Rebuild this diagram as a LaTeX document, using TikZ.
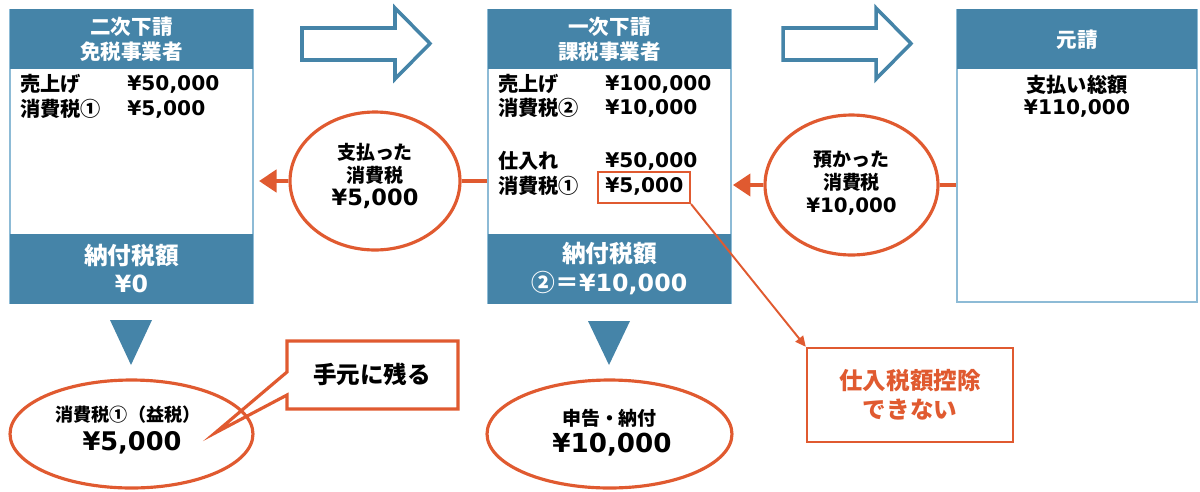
\documentclass[tikz,border=0pt]{standalone}
\usepackage{fontspec}
\setmainfont{DejaVu Sans}
\newfontfamily\jp{Noto Sans CJK JP}
\newfontfamily\lat{DejaVu Sans}
\usetikzlibrary{shapes.geometric,arrows.meta}
\definecolor{hblue}{HTML}{4584A8}
\definecolor{bline}{HTML}{8DBBD6}
\definecolor{ared}{HTML}{E05A30}
\newcommand\fs[2]{\fontsize{#1}{#2}\selectfont}
\begin{document}
\begin{tikzpicture}[x=0.02cm,y=-0.02cm,
  panel/.style={draw=bline, line width=1.2pt, fill=white, inner sep=0pt},
  hdr/.style={fill=hblue, text=white, inner sep=0pt, align=center},
  hdrfont/.style={font=\jp\bfseries\fs{11.7pt}{14.2pt}},
  ftrfont/.style={font=\jp\bfseries\fs{13.5pt}{16.2pt}},
  body/.style={inner sep=0pt, anchor=west, font=\bfseries\fs{11.5pt}{14pt}},
  ctext/.style={inner sep=0pt, align=center},
  oval/.style={ellipse, draw=ared, line width=1.8pt, inner sep=0pt},
  conn/.style={draw=ared, line width=2.6pt},
  connarr/.style={conn, -{Triangle[length=10pt,width=12.5pt]}},
  thinarr/.style={draw=ared, line width=1.1pt, -{Triangle[length=6pt,width=5.5pt]}},
  blockarr/.style={draw=hblue, line width=2pt, fill=white, line join=miter},
  redbox/.style={draw=ared, line width=1.4pt, fill=white, inner sep=0pt}
]
\useasboundingbox (0,0) rectangle (1200,491);

% ---------- block arrows ----------
\draw[blockarr] (302,28) -- (395,28) -- (395,8) -- (430,43.5) -- (395,79) -- (395,60) -- (302,60) -- cycle;
\draw[blockarr] (783,28) -- (876,28) -- (876,8) -- (911,43.5) -- (876,79) -- (876,60) -- (783,60) -- cycle;

% ---------- box 1 ----------
\node[panel, minimum width=4.86cm, minimum height=5.86cm] (b1) at (131.5,156.5) {};
\node[hdr, hdrfont, anchor=north, minimum width=4.86cm, minimum height=1.2cm] (b1h) at (b1.north) {二次下請\\免税事業者};
\node[hdr, ftrfont, anchor=south, minimum width=4.86cm, minimum height=1.4cm] (b1f) at (b1.south) {納付税額\\{\lat ¥0}};
\node[body] (b1l1) at (20,84) {\jp 売上げ};
\node[body] (b1v1) at (127,84) {¥50,000};
\node[body] (b1l2) at (20,109) {\jp 消費税①};
\node[body] (b1v2) at (127,109) {¥5,000};

% ---------- box 2 ----------
\node[panel, minimum width=4.86cm, minimum height=5.86cm] (b2) at (609.5,156.5) {};
\node[hdr, hdrfont, anchor=north, minimum width=4.86cm, minimum height=1.2cm] (b2h) at (b2.north) {一次下請\\課税事業者};
\node[hdr, ftrfont, anchor=south, minimum width=4.86cm, minimum height=1.4cm] (b2f) at (b2.south) {納付税額\\②＝{\lat ¥10,000}};
\node[body] (b2l1) at (498,84) {\jp 売上げ};
\node[body] (b2v1) at (605,84) {¥100,000};
\node[body] (b2l2) at (498,108) {\jp 消費税②};
\node[body] (b2v2) at (605,108) {¥10,000};
\node[body] (b2l3) at (498,161) {\jp 仕入れ};
\node[body] (b2v3) at (605,161) {¥50,000};
\node[body] (b2l4) at (498,186) {\jp 消費税①};
\node[body] (b2v4) at (605,186) {¥5,000};
\node[draw=ared, line width=1.2pt, inner sep=0pt, minimum width=1.84cm, minimum height=0.62cm] (r5) at (644,187.5) {};

% ---------- box 3 ----------
\node[panel, minimum width=4.8cm, minimum height=5.84cm] (b3) at (1077,156) {};
\node[hdr, hdrfont, anchor=north, minimum width=4.8cm, minimum height=1.2cm] (b3h) at (b3.north) {元請};
\node[ctext, font=\jp\bfseries\fs{11.5pt}{14pt}] (b3t1) at (1077,85) {支払い総額};
\node[ctext, font=\bfseries\fs{11.5pt}{14pt}] (b3t2) at (1077,108) {¥110,000};

% ---------- middle ellipses ----------
\node[oval, minimum width=3.4cm, minimum height=2.76cm] (e1) at (375,181) {};
\node[ctext, font=\jp\bfseries\fs{10.8pt}{13pt}] (e1t) at (375,164) {支払った\\消費税};
\node[ctext, font=\bfseries\fs{12.8pt}{15pt}] (e1v) at (375,199) {¥5,000};

\node[oval, minimum width=3.46cm, minimum height=2.8cm] (e2) at (851.5,185) {};
\node[ctext, font=\jp\bfseries\fs{10.8pt}{13pt}] (e2t) at (851.5,171.5) {預かった\\消費税};
\node[ctext, font=\bfseries\fs{11.3pt}{14pt}] (e2v) at (851.5,207) {¥10,000};

\draw[conn] (e1.east) -- (e1.east -| b2.west);
\draw[connarr, shorten >=2.8pt] (e1.west) -- (e1.west -| b1.east);
\draw[conn] (e2.east) -- (e2.east -| b3.west);
\draw[connarr, shorten >=0.5pt] (e2.west) -- (e2.west -| b2.east);

% ---------- note box ----------
\node[redbox, minimum width=4.12cm, minimum height=1.88cm, text=ared, align=center, font=\jp\bfseries\fs{13.4pt}{16.4pt}] (nb) at (910,395) {仕入税額控除\\できない};
\draw[thinarr] (r5.south east) -- (nb.north west);

% ---------- down triangles ----------
\fill[hblue] (110,320) -- (152,320) -- (131,365) -- cycle;
\fill[hblue] (588,321) -- (630,321) -- (609,365) -- cycle;

% ---------- callout ----------
\draw[draw=ared, line width=1.8pt, fill=white, line join=miter] (287,341) -- (458,341) -- (458,409) -- (287,409) -- (287,395) -- (215,433) -- (287,372) -- cycle;
\node[ctext, font=\jp\bfseries\fs{13.4pt}{16pt}] (cbt) at (372,374) {手元に残る};

% ---------- bottom ellipses ----------
\node[oval, minimum width=4.86cm, minimum height=2.16cm] (e3) at (131.5,434) {};
\node[ctext, font=\jp\bfseries\fs{10.3pt}{12pt}] (e3t) at (128,415) {消費税①（益税）};
\node[ctext, font=\bfseries\fs{14.6pt}{17pt}] (e3v) at (132,443) {¥5,000};

\node[oval, minimum width=4.9cm, minimum height=2.16cm] (e4) at (609.5,434) {};
\node[ctext, font=\jp\bfseries\fs{10.8pt}{13pt}] (e4t) at (609.5,418) {申告・納付};
\node[ctext, font=\bfseries\fs{14.9pt}{17pt}] (e4v) at (612,445) {¥10,000};
\end{tikzpicture}
\end{document}
